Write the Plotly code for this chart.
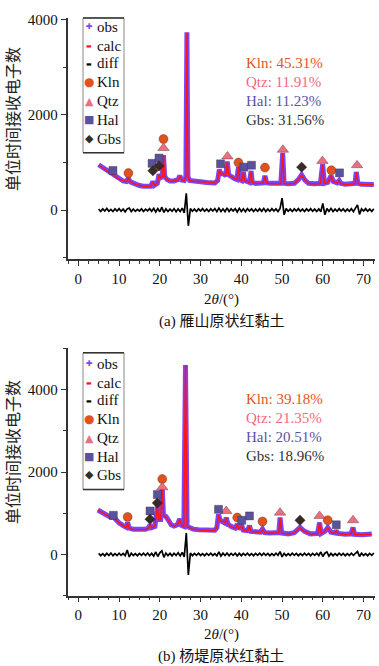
import plotly.graph_objects as go

# ---------------- data: panel (a) 雁山 ----------------
theta_a = [5.0, 5.5, 6.0, 7.0, 7.6, 8.0, 8.5, 9.0, 10.0, 11.0, 11.8, 12.3, 12.8, 14.0, 15.0, 16.0, 17.0,
           17.8, 18.3, 18.7, 19.4, 19.8, 20.2, 20.6, 20.9, 21.2, 21.8, 22.5, 23.5, 24.5, 24.9, 25.4,
           26.0, 26.4, 26.65, 26.9, 27.3, 28.5, 29.5, 30.5, 31.5, 32.5, 33.5, 34.2, 34.6, 35.0, 35.6,
           36.2, 36.55, 36.9, 37.5, 38.3, 38.9, 39.3, 39.6, 40.1, 40.5, 40.8, 41.4, 42.0, 42.4, 42.7,
           43.5, 44.5, 45.4, 45.8, 46.2, 47.0, 48.5, 49.7, 50.15, 50.5, 51.5, 53.0, 54.0, 54.8, 55.6,
           56.5, 58.0, 59.4, 59.95, 60.4, 61.2, 62.0, 62.6, 63.5, 64.0, 64.4, 65.5, 67.0, 67.9, 68.2,
           68.6, 69.5, 71.0, 72.5]
obs_a = [950, 920, 880, 820, 800, 770, 740, 700, 650, 610, 600, 660, 590, 540, 515, 500, 495,
         500, 600, 520, 560, 750, 680, 700, 1150, 700, 640, 610, 610, 640, 720, 630,
         620, 700, 3730, 700, 620, 600, 600, 590, 580, 570, 570, 620, 850, 760, 760,
         720, 1020, 740, 700, 660, 640, 900, 640, 620, 800, 620, 600, 580, 820, 580,
         560, 560, 570, 720, 570, 560, 550, 560, 1200, 560, 550, 560, 640, 740, 630,
         560, 550, 560, 960, 560, 580, 720, 600, 570, 620, 560, 540, 540, 560, 800,
         560, 540, 530, 535]
calc_a = [945, 915, 878, 818, 798, 768, 738, 698, 648, 608, 598, 655, 588, 538, 514, 499, 494,
          499, 595, 518, 558, 745, 678, 698, 1140, 698, 638, 608, 608, 638, 715, 628,
          618, 698, 3720, 698, 618, 598, 598, 588, 578, 568, 568, 618, 845, 758, 758,
          718, 1010, 738, 698, 658, 638, 895, 638, 618, 795, 618, 598, 578, 815, 578,
          558, 558, 568, 715, 568, 558, 548, 558, 1195, 558, 548, 558, 638, 735, 628,
          558, 548, 558, 955, 558, 578, 715, 598, 568, 615, 558, 538, 538, 558, 795,
          558, 538, 528, 533]
diff_theta_a = [5 + 0.5 * i for i in range(136)]
diff_a = [20, -30, 25, -20, 35, -25, 15, -30, 25, -20,
          30, -25, 20, -35, 25, 40, -30, 20, -25, 15,
          -20, 25, -30, 20, -15, 30, -25, 35, -40, 30,
          -35, 60, -50, 25, -30, 20, -25, 30, -35, 25,
          -30, 40, -60, 350, -330, 30, -25, 20, -30, 25,
          -20, 30, -25, 20, -30, 25, -20, 30, -35, 40,
          -30, 25, -35, 45, -30, 25, -20, 30, -40, 35,
          -30, 25, -35, 30, -20, 25, -30, 20, -25, 30,
          -25, 35, -30, 20, -25, 30, -20, 25, -30, 35,
          250, -100, 30, -25, 20, -30, 25, -20, 30, -25,
          20, -30, 25, -20, 30, -25, 20, -30, 25, -35,
          140, -100, 30, -25, 35, -30, 20, -25, 30, -20,
          25, -30, 20, -25, 30, -35, 40, 110, -90, 25,
          -20, 30, -25, 20, -30, 25]
kln_a_x = [12.3, 20.9, 39.3, 45.8, 62.1]
kln_a_y = [775, 1490, 995, 890, 835]
qtz_a_x = [20.9, 26.65, 36.6, 50.2, 59.9, 68.4]
qtz_a_y = [1300, 4040, 1125, 1265, 1030, 940]
hal_a_x = [8.5, 18.1, 19.8, 34.9, 40.6, 42.5, 64.1]
hal_a_y = [830, 980, 1090, 970, 900, 940, 780]
gbs_a_x = [18.3, 19.8, 54.8]
gbs_a_y = [825, 925, 900]
pct_a = ["Kln: 45.31%", "Qtz: 11.91%", "Hal: 11.23%", "Gbs: 31.56%"]

# ---------------- data: panel (b) 杨堤 ----------------
theta_b = [4.8, 5.5, 6.5, 7.5, 8.0, 8.6, 9.2, 10.0, 11.0, 11.8, 12.1, 12.5, 13.5, 15.0, 16.5, 17.2,
           17.6, 18.0, 18.8, 19.4, 19.8, 20.2, 20.6, 20.9, 21.5, 22.0, 22.8, 23.5, 24.3, 24.9, 25.4,
           25.9, 26.3, 26.7, 27.3, 28.2, 29.5, 31.0, 32.5, 33.5, 34.0, 34.4, 34.8, 35.5, 36.0, 36.3,
           36.7, 37.5, 38.5, 39.0, 39.4, 40.1, 40.5, 41.5, 42.0, 42.4, 43.5, 44.7, 45.2, 45.7, 47.0,
           48.5, 49.2, 49.5, 49.9, 51.5, 53.0, 54.4, 55.5, 57.0, 58.7, 59.2, 59.6, 60.5, 61.2, 62.0,
           63.0, 63.3, 63.7, 65.5, 66.9, 67.4, 67.8, 69.5, 72.0]
obs_b = [1080, 1040, 990, 940, 900, 910, 840, 770, 700, 660, 780, 640, 610, 600, 610, 640,
         720, 650, 680, 1170, 850, 850, 1610, 950, 920, 850, 720, 690, 720, 860, 700,
         680, 4600, 680, 650, 615, 600, 590, 575, 590, 650, 975, 830, 800, 760, 895,
         740, 680, 640, 735, 620, 700, 590, 580, 695, 560, 545, 540, 615, 530, 520,
         515, 530, 895, 520, 500, 530, 655, 560, 500, 510, 775, 510, 560, 655, 540,
         520, 575, 510, 490, 500, 655, 490, 480, 495]
calc_b = [1075, 1036, 986, 936, 897, 905, 836, 766, 697, 657, 772, 637, 607, 597, 607, 637,
          715, 647, 677, 1160, 845, 846, 1600, 945, 915, 846, 716, 686, 716, 852, 696,
          676, 4590, 676, 646, 612, 597, 587, 572, 587, 646, 965, 826, 796, 756, 888,
          736, 676, 636, 728, 616, 694, 586, 576, 688, 556, 541, 536, 610, 526, 516,
          511, 526, 888, 516, 496, 526, 650, 556, 496, 506, 768, 506, 556, 650, 536,
          516, 570, 506, 486, 496, 650, 486, 476, 491]
diff_theta_b = [5 + 0.5 * i for i in range(136)]
diff_b = [25, -30, 20, -35, 30, -25, 35, -30, 20, -25,
          30, -20, 25, -30, 110, -60, 30, -25, 20, -30,
          25, -20, 30, -25, 35, -30, 25, -40, 60, -50,
          40, 90, -70, 35, -30, 25, -35, 30, -25, 40,
          -35, 50, -60, 520, -500, 35, -30, 25, -20, 30,
          -25, 20, -30, 25, -20, 30, -25, 20, -35, 60,
          -40, 30, -25, 35, -30, 25, -20, 30, -35, 25,
          -30, 25, -20, 30, -25, 20, -30, 25, -20, 30,
          -25, 30, -20, 25, -30, 20, -25, 30, -20, 70,
          -60, 25, -30, 20, -25, 30, -20, 25, -30, 20,
          -25, 30, -20, 25, -30, 25, -20, 30, -25, 60,
          -50, 30, 60, -40, 25, -30, 20, -25, 30, -20,
          25, -30, 20, -25, 30, -20, 25, 70, -50, 30,
          -25, 20, -30, 25, -20, 30]
kln_b_x = [12.1, 20.6, 39.0, 45.2, 61.2]
kln_b_y = [910, 1830, 895, 800, 830]
qtz_b_x = [20.6, 26.3, 36.3, 49.5, 59.2, 67.4]
qtz_b_y = [1630, 5005, 1055, 1015, 935, 830]
hal_b_x = [8.6, 17.6, 19.4, 34.4, 40.1, 42.0, 63.3]
hal_b_y = [950, 1055, 1455, 1095, 830, 935, 720]
gbs_b_x = [17.6, 19.4, 54.4]
gbs_b_y = [855, 1250, 830]
pct_b = ["Kln: 39.18%", "Qtz: 21.35%", "Hal: 20.51%", "Gbs: 18.96%"]

legend_names = ["obs", "calc", "diff", "Kln", "Qtz", "Hal", "Gbs"]

# ---------------- styles ----------------
W, H = 379, 666
SERIF = "Liberation Serif"
CJK = "Liberation Serif, Noto Sans CJK SC"
C_OBS = "#7a45ff"
C_CALC = "#ff1414"
C_KLN = "#e2521c"
C_QTZ = "#ec6f80"
C_HAL = "#58539c"
C_GBS = "#3a2b24"
TXT_KLN = "#e4531e"
TXT_QTZ = "#f26a7c"
TXT_HAL = "#5a559f"
TXT_GBS = "#333333"


def px(x):
    return x / W


def py(y):
    return 1 - y / H


fig = go.Figure()


def add_panel(xa, ya, th, obs, calc, dth, diff, kx, ky, qx, qy, hx, hy, gx, gy):
    fig.add_trace(go.Scatter(x=th, y=obs, mode="lines", name="obs",
                             line=dict(color=C_OBS, width=5),
                             xaxis=xa, yaxis=ya, showlegend=False))
    fig.add_trace(go.Scatter(x=th, y=calc, mode="lines", name="calc",
                             line=dict(color=C_CALC, width=1.5),
                             xaxis=xa, yaxis=ya, showlegend=False))
    fig.add_trace(go.Scatter(x=dth, y=diff, mode="lines", name="diff",
                             line=dict(color="black", width=1.7),
                             xaxis=xa, yaxis=ya, showlegend=False))
    for nm, xs, ys, sym, col, sz in [("Kln", kx, ky, "circle", C_KLN, 9),
                                     ("Qtz", qx, qy, "triangle-up", C_QTZ, 10),
                                     ("Hal", hx, hy, "square", C_HAL, 8),
                                     ("Gbs", gx, gy, "diamond", C_GBS, 8)]:
        fig.add_trace(go.Scatter(x=xs, y=ys, mode="markers", name=nm,
                                 marker=dict(symbol=sym, color=col, size=sz,
                                             line=dict(color="rgba(60,30,30,0.6)", width=0.6)),
                                 cliponaxis=False, xaxis=xa, yaxis=ya, showlegend=False))


add_panel("x", "y", theta_a, obs_a, calc_a, diff_theta_a, diff_a,
          kln_a_x, kln_a_y, qtz_a_x, qtz_a_y, hal_a_x, hal_a_y, gbs_a_x, gbs_a_y)
add_panel("x2", "y2", theta_b, obs_b, calc_b, diff_theta_b, diff_b,
          kln_b_x, kln_b_y, qtz_b_x, qtz_b_y, hal_b_x, hal_b_y, gbs_b_x, gbs_b_y)

axis_common = dict(showgrid=False, zeroline=False, showline=True, linecolor="#333333",
                   linewidth=1.6, ticks="outside", ticklen=5, tickwidth=1.4, tickcolor="#333333",
                   tickfont=dict(family=SERIF, size=15, color="#111111"))
minor_x = dict(dtick=2.5, ticks="outside", ticklen=3, tickwidth=1.2, tickcolor="#333333")
minor_y = dict(dtick=1000, ticks="outside", ticklen=3, tickwidth=1.2, tickcolor="#333333")
xdom = [px(67.5), px(375)]
fig.update_layout(
    width=W, height=H, margin=dict(l=0, r=0, t=0, b=0),
    font=dict(family=SERIF, size=15, color="#111111"),
    paper_bgcolor="white", plot_bgcolor="white", showlegend=False,
    xaxis=dict(domain=xdom, range=[-2.65, 72.8], dtick=10, tick0=0, anchor="y",
               minor=minor_x, **axis_common),
    yaxis=dict(domain=[py(255), py(12)], range=[-1020, 4030], dtick=2000, tick0=0, anchor="x",
               minor=minor_y, **axis_common),
    xaxis2=dict(domain=xdom, range=[-2.65, 72.8], dtick=10, tick0=0, anchor="y2",
                minor=minor_x, **axis_common),
    yaxis2=dict(domain=[py(595), py(345.6)], range=[-1000, 5000], dtick=2000, tick0=0, anchor="x2",
                minor=minor_y, **axis_common),
)

annotations = []
shapes = []


def txt(x, y, s, size=15, color="#111111", xanchor="center", angle=0, family=SERIF):
    annotations.append(dict(x=px(x), y=py(y), xref="paper", yref="paper", text=s,
                            showarrow=False, xanchor=xanchor, yanchor="middle", textangle=angle,
                            font=dict(family=family, size=size, color=color)))


def panel_texts(ytitle_c, xtitle_y, cap_y, cap, leg_top, leg_bot, leg_rows, pct_rows, pcts):
    txt(14, ytitle_c, "单位时间接收电子数", size=16, color="#222222", angle=-90, family=CJK)
    txt(221, xtitle_y, "2<i>θ</i>/(°)", size=15)
    txt(221, cap_y, cap, size=15, family=CJK)
    shapes.append(dict(type="rect", xref="paper", yref="paper",
                       x0=px(83), x1=px(124), y0=py(leg_bot), y1=py(leg_top),
                       line=dict(color="#888888", width=1), fillcolor="white", layer="above"))
    shapes.append(dict(type="line", xref="paper", yref="paper",
                       x0=px(83), x1=px(124), y0=py(leg_top), y1=py(leg_top),
                       line=dict(color="#333333", width=1.5), layer="above"))
    shapes.append(dict(type="line", xref="paper", yref="paper",
                       x0=px(83), x1=px(124), y0=py(leg_bot), y1=py(leg_bot),
                       line=dict(color="#333333", width=1.5), layer="above"))
    glyphs = [("✚", C_OBS, 8), ("▬", C_CALC, 6), ("▬", "#000000", 6), ("●", C_KLN, 12),
              ("▲", C_QTZ, 11), ("■", C_HAL, 11), ("◆", C_GBS, 11)]
    for (g, c, s), name, yy in zip(glyphs, legend_names, leg_rows):
        txt(89, yy, g, size=s, color=c, family="DejaVu Sans")
        txt(95, yy, name, size=15, xanchor="left")
    for s, c, yy in zip(pcts, [TXT_KLN, TXT_QTZ, TXT_HAL, TXT_GBS], pct_rows):
        txt(244, yy, s, size=15, color=c, xanchor="left")


panel_texts(114, 296, 318, "(a) 雁山原状红黏土", 12, 148,
            [21, 40, 58, 77, 96, 115, 134], [58, 77, 96, 115], pct_a)
panel_texts(450, 634, 656, "(b) 杨堤原状红黏土", 350, 488,
            [361, 380, 398, 417, 436, 455, 473], [397, 416, 435, 454], pct_b)

fig.update_layout(annotations=annotations, shapes=shapes)
fig.write_html("out.html", config={"displayModeBar": False},
               post_script="document.body.style.margin='0';document.body.style.overflow='hidden';")
